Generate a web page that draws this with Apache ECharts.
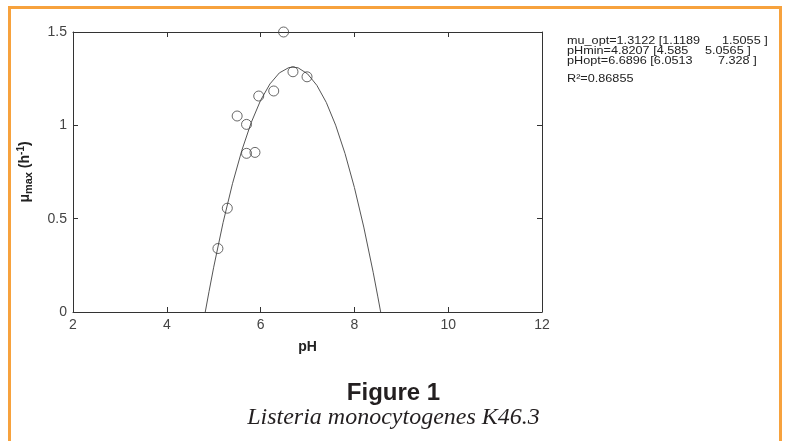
<!DOCTYPE html>
<html>
<head>
<meta charset="utf-8">
<script src="https://cdn.jsdelivr.net/npm/echarts@6/dist/echarts.min.js"></script>
<style>
html,body{margin:0;padding:0;background:#fff;}
#chart{width:787px;height:441px;}
</style>
</head>
<body>
<div id="chart"></div>
<script>
// Observed data points (pH, mu_max)
const obsPH = [5.09, 5.29, 5.50, 5.70, 5.70, 5.88, 5.96, 6.28, 6.49, 6.69, 6.99];
const obsMu = [0.34, 0.556, 1.05, 1.005, 0.85, 0.855, 1.157, 1.184, 1.50, 1.287, 1.26];

// Fitted curve
const curvePH = [4.82, 4.9, 5.0, 5.2, 5.4, 5.6, 5.8, 6.0, 6.2, 6.4, 6.6, 6.69, 6.8, 7.0, 7.2, 7.4, 7.6, 7.8, 8.0, 8.2, 8.4, 8.5, 8.56];
const curveMu = [0.0, 0.109, 0.240, 0.479, 0.687, 0.866, 1.015, 1.134, 1.222, 1.281, 1.309, 1.312, 1.308, 1.276, 1.214, 1.123, 1.001, 0.849, 0.667, 0.455, 0.213, 0.081, 0.0];

// Axis ticks
const xTicks = [2, 4, 6, 8, 10, 12];
const yTicks = [0, 0.5, 1, 1.5];

// Annotation text (left part, bracket upper bound)
const fitLeft = ['mu_opt=1.3122 [1.1189', 'pHmin=4.8207 [4.585', 'pHopt=6.6896 [6.0513'];
const fitRight = ['1.5055 ]', '5.0565 ]', '7.328 ]'];
const r2Text = 'R\u00B2=0.86855';
const figTitle = 'Figure 1';
const figSubtitle = 'Listeria monocytogenes K46.3';

const chart = echarts.init(document.getElementById('chart'), null, {renderer: 'canvas'});
const axisColor = '#333';
const labelFont = '"Liberation Sans", Arial, sans-serif';
const rightX = [722, 705, 718];

const gridL = 73, gridR = 787 - 542, gridT = 32, gridB = 441 - 312;

function annot(text, x, y) {
  return {
    type: 'text', x: x, y: y, scaleX: 1.15, scaleY: 1, silent: true,
    style: {text: text, fontFamily: labelFont, fontSize: 11, fill: '#222', textVerticalAlign: 'top', textAlign: 'left'}
  };
}

const option = {
  animation: false,
  backgroundColor: '#fff',
  grid: {left: gridL, right: gridR, top: gridT, bottom: gridB, containLabel: false},
  xAxis: [
    {
      type: 'value', min: xTicks[0], max: xTicks[xTicks.length - 1], interval: 2, position: 'bottom',
      name: 'pH', nameLocation: 'middle', nameGap: 28,
      nameTextStyle: {fontFamily: labelFont, fontWeight: 'bold', fontSize: 14, color: '#222'},
      axisLine: {show: true, onZero: false, lineStyle: {color: axisColor, width: 1}},
      axisTick: {show: true, inside: true, length: 5, lineStyle: {color: axisColor}},
      axisLabel: {show: true, fontFamily: labelFont, fontSize: 14, color: '#444', margin: 6,
        showMinLabel: true, showMaxLabel: true},
      splitLine: {show: false}
    },
    {
      type: 'value', min: xTicks[0], max: xTicks[xTicks.length - 1], interval: 2, position: 'top',
      axisLine: {show: true, onZero: false, lineStyle: {color: axisColor, width: 1}},
      axisTick: {show: true, inside: true, length: 5, lineStyle: {color: axisColor}},
      axisLabel: {show: false},
      splitLine: {show: false}
    }
  ],
  yAxis: [
    {
      type: 'value', min: yTicks[0], max: yTicks[yTicks.length - 1], interval: 0.5, position: 'left',
      name: '{mu|\u03BC}{sub|max}{mu| (h}{sup|-1}{mu|)}',
      nameLocation: 'middle', nameGap: 39, nameRotate: 90,
      nameTextStyle: {
        rich: {
          mu: {fontFamily: labelFont, fontWeight: 'bold', fontSize: 14, color: '#222'},
          sub: {fontFamily: labelFont, fontWeight: 'bold', fontSize: 11, color: '#222', verticalAlign: 'bottom', padding: [7, 0, 0, 0]},
          sup: {fontFamily: labelFont, fontWeight: 'bold', fontSize: 10, color: '#222', verticalAlign: 'top', padding: [0, 0, 7, 0]}
        }
      },
      axisLine: {show: true, onZero: false, lineStyle: {color: axisColor, width: 1}},
      axisTick: {show: true, inside: true, length: 5, lineStyle: {color: axisColor}},
      axisLabel: {show: true, fontFamily: labelFont, fontSize: 14, color: '#444', margin: 6,
        showMinLabel: true, showMaxLabel: true},
      splitLine: {show: false}
    },
    {
      type: 'value', min: yTicks[0], max: yTicks[yTicks.length - 1], interval: 0.5, position: 'right',
      axisLine: {show: true, onZero: false, lineStyle: {color: axisColor, width: 1}},
      axisTick: {show: true, inside: true, length: 5, lineStyle: {color: axisColor}},
      axisLabel: {show: false},
      splitLine: {show: false}
    }
  ],
  series: [
    {
      type: 'line',
      data: curvePH.map((x, i) => [x, curveMu[i]]),
      smooth: false,
      showSymbol: false,
      lineStyle: {color: '#555', width: 1},
      z: 2
    },
    {
      type: 'scatter',
      data: obsPH.map((x, i) => [x, obsMu[i]]),
      symbol: 'circle',
      symbolSize: 10,
      clip: false,
      itemStyle: {color: 'rgba(0,0,0,0)', borderColor: '#444', borderWidth: 1},
      z: 3
    }
  ],
  graphic: [
    {
      type: 'rect', silent: true,
      shape: {x: 9.5, y: 7.5, width: 771, height: 460},
      style: {fill: 'none', stroke: '#f7a23d', lineWidth: 3}
    },
    ...fitLeft.map((t, i) => annot(t, 567, 35 + i * 10)),
    ...fitRight.map((t, i) => annot(t, rightX[i], 35 + i * 10)),
    annot(r2Text, 567, 73),
    {
      type: 'text', left: 'center', top: 381, silent: true,
      style: {text: figTitle, fontFamily: labelFont, fontWeight: 'bold', fontSize: 24, fill: '#231f20'}
    },
    {
      type: 'text', left: 'center', top: 406, silent: true,
      style: {text: figSubtitle, fontFamily: '"Liberation Serif", "Times New Roman", serif', fontStyle: 'italic', fontSize: 24, fill: '#231f20'}
    }
  ]
};
chart.setOption(option);
</script>
</body>
</html>
